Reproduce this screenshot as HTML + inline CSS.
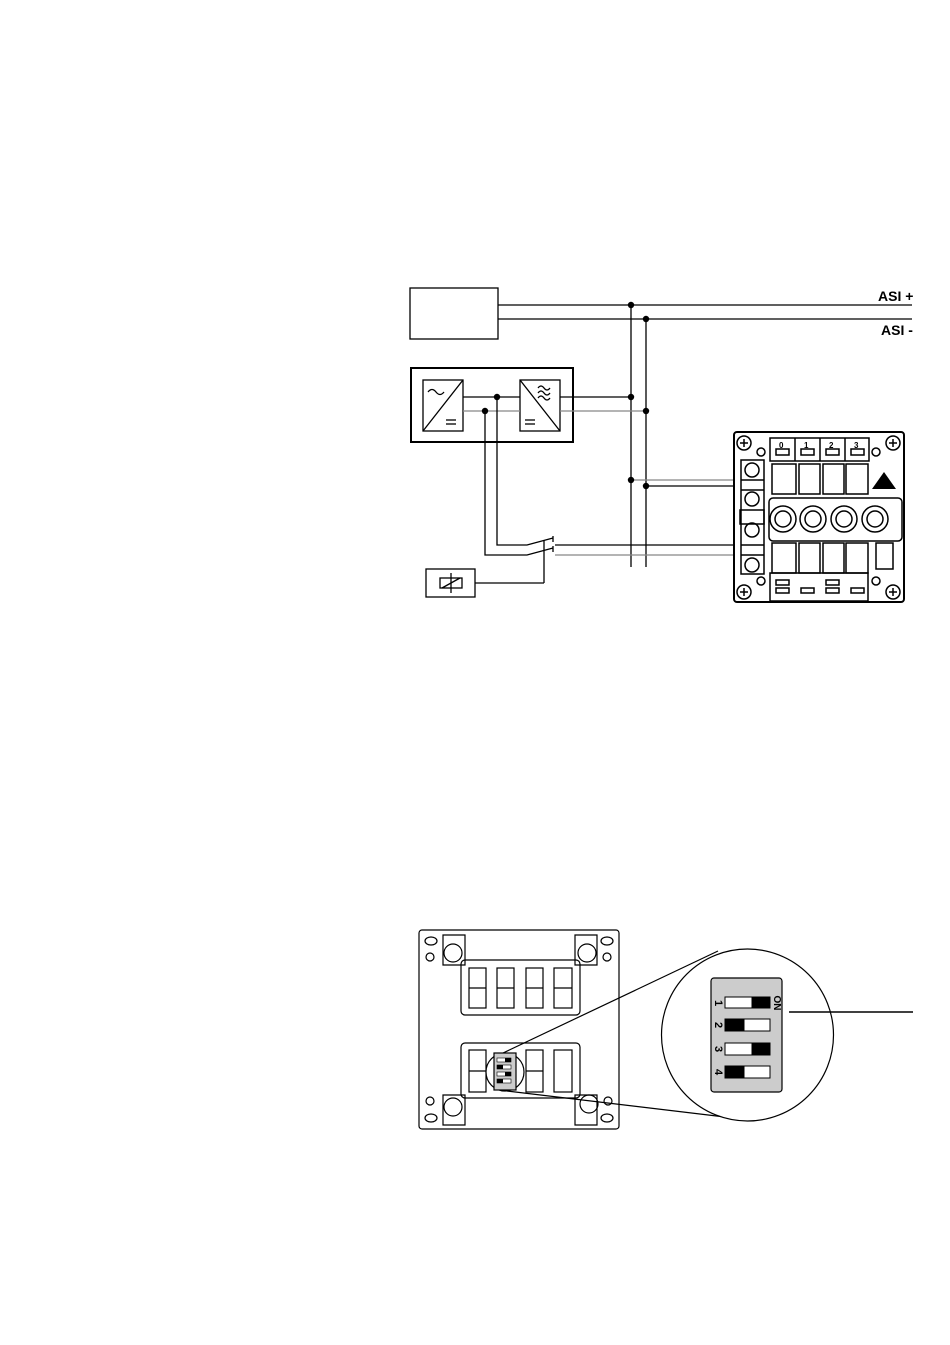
<!DOCTYPE html>
<html><head><meta charset="utf-8"><style>
html,body{margin:0;padding:0;background:#fff;}
svg{display:block;}
text{font-family:"Liberation Sans",sans-serif;font-weight:bold;}
</style></head><body>
<svg width="950" height="1345" viewBox="0 0 950 1345" xmlns="http://www.w3.org/2000/svg">
<g fill="none" stroke="#000" stroke-width="1.3">
<!-- top box -->
<rect x="410" y="288" width="88" height="51"/>
<line x1="498" y1="305" x2="912" y2="305"/>
<line x1="498" y1="319" x2="912" y2="319"/>
<line x1="631" y1="305" x2="631" y2="567"/>
<line x1="646" y1="319" x2="646" y2="567"/>
<!-- converter box -->
<rect x="411" y="368" width="162" height="74" stroke-width="2"/>
<rect x="423" y="380" width="40" height="51"/>
<line x1="423" y1="431" x2="463" y2="380"/>
<path d="M428 392 q4 -5 8 0 t8 0"/>
<line x1="446" y1="420" x2="456" y2="420"/><line x1="446" y1="424" x2="456" y2="424"/>
<rect x="520" y="380" width="40" height="51"/>
<line x1="520" y1="380" x2="560" y2="431"/>
<path d="M538 388 q3 -4 6 0 t6 0 M538 393 q3 -4 6 0 t6 0 M538 398 q3 -4 6 0 t6 0"/>
<line x1="525" y1="420" x2="535" y2="420"/><line x1="525" y1="424" x2="535" y2="424"/>
<line x1="463" y1="397" x2="520" y2="397"/>
<line x1="560" y1="397" x2="631" y2="397"/>
<line x1="463" y1="411" x2="520" y2="411" stroke="#888"/>
<line x1="560" y1="411" x2="646" y2="411" stroke="#888"/>
<!-- switch wiring -->
<polyline points="497,397 497,545 527,545 553,538"/>
<polyline points="485,411 485,555 527,555 553,548" />
<line x1="553" y1="536" x2="553" y2="542"/><line x1="553" y1="546" x2="553" y2="552"/>
<line x1="555" y1="545" x2="735" y2="545"/>
<line x1="555" y1="555" x2="735" y2="555" stroke="#888"/>
<line x1="544" y1="540" x2="544" y2="583"/>
<line x1="475" y1="583" x2="544" y2="583"/>
<rect x="426" y="569" width="49" height="28"/>
<rect x="440" y="578" width="22" height="10"/>
<line x1="442" y1="588" x2="460" y2="578"/>
<line x1="451" y1="573" x2="451" y2="593"/>
<line x1="631" y1="480" x2="735" y2="480" stroke="#888"/>
<line x1="646" y1="486" x2="735" y2="486"/>
</g>
<g fill="#000">
<circle cx="631" cy="305" r="3.2"/><circle cx="646" cy="319" r="3.2"/>
<circle cx="631" cy="397" r="3.2"/><circle cx="646" cy="411" r="3.2"/>
<circle cx="497" cy="397" r="3.2"/><circle cx="485" cy="411" r="3.2"/>
<circle cx="631" cy="480" r="3.2"/><circle cx="646" cy="486" r="3.2"/>
</g>
<text x="878" y="301" font-size="14">ASI +</text>
<text x="881" y="335" font-size="14">ASI -</text>
<!-- module -->
<g fill="none" stroke="#000" stroke-width="1.5">
<rect x="734" y="432" width="170" height="170" rx="3" stroke-width="2"/>
<circle cx="744" cy="443" r="7"/><circle cx="893" cy="443" r="7"/><circle cx="744" cy="592" r="7"/><circle cx="893" cy="592" r="7"/>
<path d="M740 443h8M744 439v8M889 443h8M893 439v8M740 592h8M744 588v8M889 592h8M893 588v8"/>
<circle cx="761" cy="452" r="4"/><circle cx="876" cy="452" r="4"/><circle cx="761" cy="581" r="4"/><circle cx="876" cy="581" r="4"/>
<rect x="770" y="438" width="99" height="23"/>
<line x1="795" y1="438" x2="795" y2="461"/><line x1="820" y1="438" x2="820" y2="461"/><line x1="845" y1="438" x2="845" y2="461"/>
<rect x="776" y="449" width="13" height="6"/><rect x="801" y="449" width="13" height="6"/><rect x="826" y="449" width="13" height="6"/><rect x="851" y="449" width="13" height="6"/>
<rect x="741" y="460" width="23" height="114"/>
<line x1="741" y1="480" x2="764" y2="480"/><line x1="741" y1="490" x2="764" y2="490"/>
<line x1="741" y1="545" x2="764" y2="545"/><line x1="741" y1="555" x2="764" y2="555"/>
<circle cx="752" cy="470" r="7"/><circle cx="752" cy="499" r="7"/><circle cx="752" cy="530" r="7"/><circle cx="752" cy="565" r="7"/>
<rect x="740" y="510" width="24" height="14"/>
<rect x="772" y="464" width="24" height="30"/><rect x="799" y="464" width="21" height="30"/><rect x="823" y="464" width="21" height="30"/><rect x="846" y="464" width="22" height="30"/>
<rect x="769" y="498" width="133" height="43" rx="4"/>
<circle cx="783" cy="519" r="13"/><circle cx="813" cy="519" r="13"/><circle cx="844" cy="519" r="13"/><circle cx="875" cy="519" r="13"/>
<circle cx="783" cy="519" r="8"/><circle cx="813" cy="519" r="8"/><circle cx="844" cy="519" r="8"/><circle cx="875" cy="519" r="8"/>
<rect x="772" y="543" width="24" height="30"/><rect x="799" y="543" width="21" height="30"/><rect x="823" y="543" width="21" height="30"/><rect x="846" y="543" width="22" height="30"/>
<rect x="876" y="543" width="17" height="26"/>
<rect x="770" y="573" width="98" height="28"/>
<rect x="776" y="580" width="13" height="5"/><rect x="776" y="588" width="13" height="5"/><rect x="801" y="588" width="13" height="5"/>
<rect x="826" y="580" width="13" height="5"/><rect x="826" y="588" width="13" height="5"/><rect x="851" y="588" width="13" height="5"/>
</g>
<polygon points="872,489 884,472 896,489" fill="#000"/>
<g font-size="8"><text x="779" y="448">0</text><text x="804" y="448">1</text><text x="829" y="448">2</text><text x="854" y="448">3</text></g>
<!-- bottom module -->
<g fill="none" stroke="#000" stroke-width="1.2">
<rect x="419" y="930" width="200" height="199" rx="3"/>
<rect x="461" y="960" width="119" height="55" rx="4"/>
<rect x="461" y="1043" width="119" height="55" rx="4"/>
<g>
<rect x="469" y="968" width="17" height="40"/><rect x="497" y="968" width="17" height="40"/><rect x="526" y="968" width="17" height="40"/><rect x="554" y="968" width="18" height="40"/>
<line x1="469" y1="988" x2="486" y2="988"/><line x1="497" y1="988" x2="514" y2="988"/><line x1="526" y1="988" x2="543" y2="988"/><line x1="554" y1="988" x2="572" y2="988"/>
<rect x="469" y="1050" width="17" height="42"/><rect x="526" y="1050" width="17" height="42"/><rect x="554" y="1050" width="18" height="42"/>
<line x1="469" y1="1071" x2="486" y2="1071"/><line x1="526" y1="1071" x2="543" y2="1071"/>
</g>
<path d="M443 965 V935 H465 V965 Z"/><path d="M575 965 V935 H597 V965 Z"/>
<path d="M443 1095 V1125 H465 V1095 Z"/><path d="M575 1095 V1125 H597 V1095 Z"/>
<circle cx="453" cy="953" r="9"/><circle cx="587" cy="953" r="9"/><circle cx="453" cy="1107" r="9"/><circle cx="589" cy="1104" r="9"/>
<ellipse cx="431" cy="941" rx="6" ry="4"/><circle cx="430" cy="957" r="4"/><ellipse cx="607" cy="941" rx="6" ry="4"/><circle cx="607" cy="957" r="4"/>
<circle cx="430" cy="1101" r="4"/><ellipse cx="431" cy="1118" rx="6" ry="4"/><circle cx="608" cy="1101" r="4"/><ellipse cx="607" cy="1118" rx="6" ry="4"/>
<circle cx="505" cy="1072" r="19" fill="#fff"/>
<rect x="494" y="1053" width="22" height="37" fill="#ccc"/>
<line x1="503" y1="1053" x2="718" y2="951"/>
<line x1="507" y1="1091" x2="725" y2="1117"/>
<circle cx="747.5" cy="1035" r="86" fill="#fff"/>
<rect x="711" y="978" width="71" height="114" rx="3" fill="#ccc"/>
<line x1="789" y1="1012" x2="913" y2="1012" stroke-width="1.5"/>
</g>
<g fill="#000">
<rect x="497" y="1058" width="14" height="4" fill="#fff" stroke="#000" stroke-width="0.6"/><rect x="505" y="1058" width="6" height="4"/>
<rect x="497" y="1065" width="14" height="4" fill="#fff" stroke="#000" stroke-width="0.6"/><rect x="497" y="1065" width="6" height="4"/>
<rect x="497" y="1072" width="14" height="4" fill="#fff" stroke="#000" stroke-width="0.6"/><rect x="505" y="1072" width="6" height="4"/>
<rect x="497" y="1079" width="14" height="4" fill="#fff" stroke="#000" stroke-width="0.6"/><rect x="497" y="1079" width="6" height="4"/>
</g>
<g stroke="#000" stroke-width="1">
<rect x="725" y="997" width="45" height="11" fill="#fff"/><rect x="752" y="997" width="18" height="11" fill="#000"/>
<rect x="725" y="1019" width="45" height="12" fill="#fff"/><rect x="725" y="1019" width="19" height="12" fill="#000"/>
<rect x="725" y="1043" width="45" height="12" fill="#fff"/><rect x="752" y="1043" width="18" height="12" fill="#000"/>
<rect x="725" y="1066" width="45" height="12" fill="#fff"/><rect x="725" y="1066" width="19" height="12" fill="#000"/>
</g>
<g font-size="11">
<text transform="translate(715,1003) rotate(90)" text-anchor="middle">1</text>
<text transform="translate(715,1025) rotate(90)" text-anchor="middle">2</text>
<text transform="translate(715,1049) rotate(90)" text-anchor="middle">3</text>
<text transform="translate(715,1072) rotate(90)" text-anchor="middle">4</text>
<text transform="translate(774,1003) rotate(90)" text-anchor="middle" font-size="10">ON</text>
</g>
</svg>
</body></html>
